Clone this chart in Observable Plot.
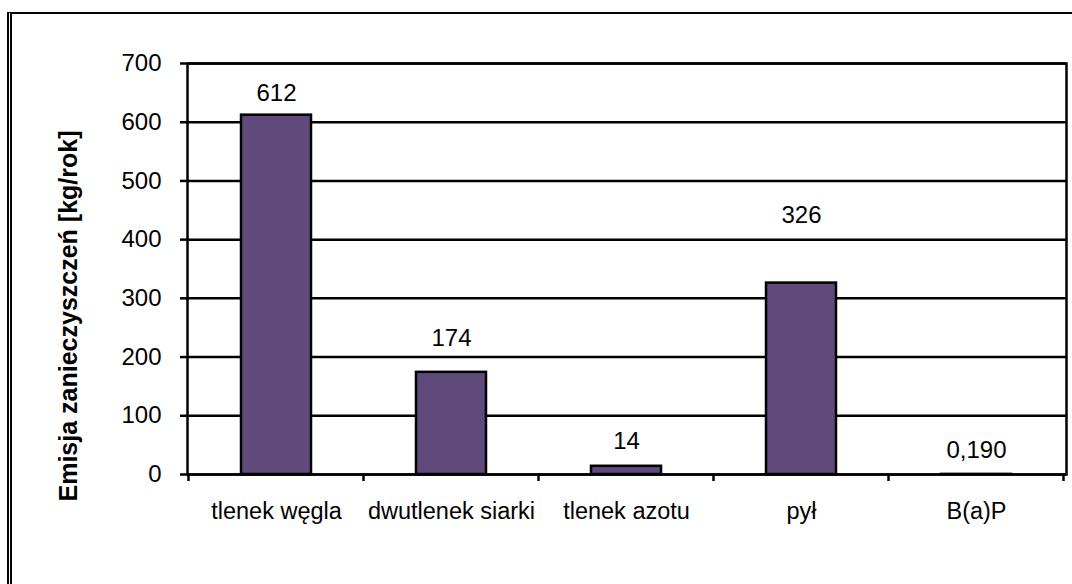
<!DOCTYPE html>
<html>
<head>
<meta charset="utf-8">
<script src="https://cdn.jsdelivr.net/npm/d3@7"></script>
<script src="https://cdn.jsdelivr.net/npm/@observablehq/plot@0.6"></script>
<style>
  html, body { margin: 0; padding: 0; background: #fff; }
  #wrap { position: relative; width: 1072px; height: 584px; overflow: hidden; background: #fff; }
  #border { position: absolute; top: 12px; left: 7px; right: -10px; bottom: -10px;
            border-top: 2.5px solid #000; border-left: 5px double #000; }
  #chart { position: absolute; top: 0; left: 0; }
  #chart svg { background: transparent; }
</style>
</head>
<body>
<div id="wrap"><div id="border"></div><div id="chart"></div></div>
<script>
const categories = ["tlenek węgla", "dwutlenek siarki", "tlenek azotu", "pył", "B(a)P"];
const values = [612, 174, 14, 326, 0.19];
const valueLabels = ["612", "174", "14", "326", "0,190"];
const labelAt = [649, 232, 56, 442, 41];
const yTicks = [0, 100, 200, 300, 400, 500, 600, 700];
const yTitle = "Emisja zanieczyszczeń [kg/rok]";

const data = categories.map((c, i) => ({cat: c, value: values[i], label: valueLabels[i], at: labelAt[i]}));

const font = "'Liberation Sans', Arial, sans-serif";

function boundaryTicks(index, scales) {
  const x = scales.x, y = scales.y;
  const step = x(categories[1]) - x(categories[0]);
  const bw = x.bandwidth ? x.bandwidth() : 0;
  const gap = (step - bw) / 2;
  const edges = categories.map(c => x(c) - gap);
  edges.push(x(categories[categories.length - 1]) + bw + gap);
  const y0 = y(0);
  const g = d3.create("svg:g").attr("stroke", "#000").attr("stroke-width", 2.5);
  for (const e of edges) {
    g.append("line").attr("x1", e).attr("x2", e).attr("y1", y0).attr("y2", y0 + 7);
  }
  return g.node();
}

const chart = Plot.plot({
  width: 1072,
  height: 584,
  marginLeft: 187,
  marginRight: 6,
  marginTop: 63,
  marginBottom: 110,
  style: {fontFamily: font, background: "transparent"},
  x: {domain: categories, paddingInner: 0.6, paddingOuter: 0.3, label: null},
  y: {domain: [0, 700], label: null},
  marks: [
    Plot.ruleY(yTicks, {stroke: "#000", strokeWidth: 2.5}),
    Plot.barY(data, {x: "cat", y: "value", fill: "#604a7b", stroke: "#000", strokeWidth: 2.5}),
    Plot.frame({stroke: "#000", strokeWidth: 2.5}),
    Plot.axisY({ticks: yTicks, tickSize: 7, tickPadding: 19, fontSize: 24, stroke: "#000", strokeWidth: 2.5, label: null, tickFormat: d => String(d), fill: "#000"}),
    Plot.axisX({tickSize: 0, tickPadding: 28, fontSize: 23.5, label: null, fill: "#000"}),
    boundaryTicks,
    Plot.text(data, {x: "cat", y: "at", text: "label", fontSize: 24, fill: "#000"}),
    Plot.text([yTitle], {frameAnchor: "left", textAnchor: "middle", dx: -119, dy: 47, rotate: -90, fontSize: 25, fontWeight: "bold", fill: "#000"})
  ]
});
document.getElementById("chart").appendChild(chart);
</script>
</body>
</html>
